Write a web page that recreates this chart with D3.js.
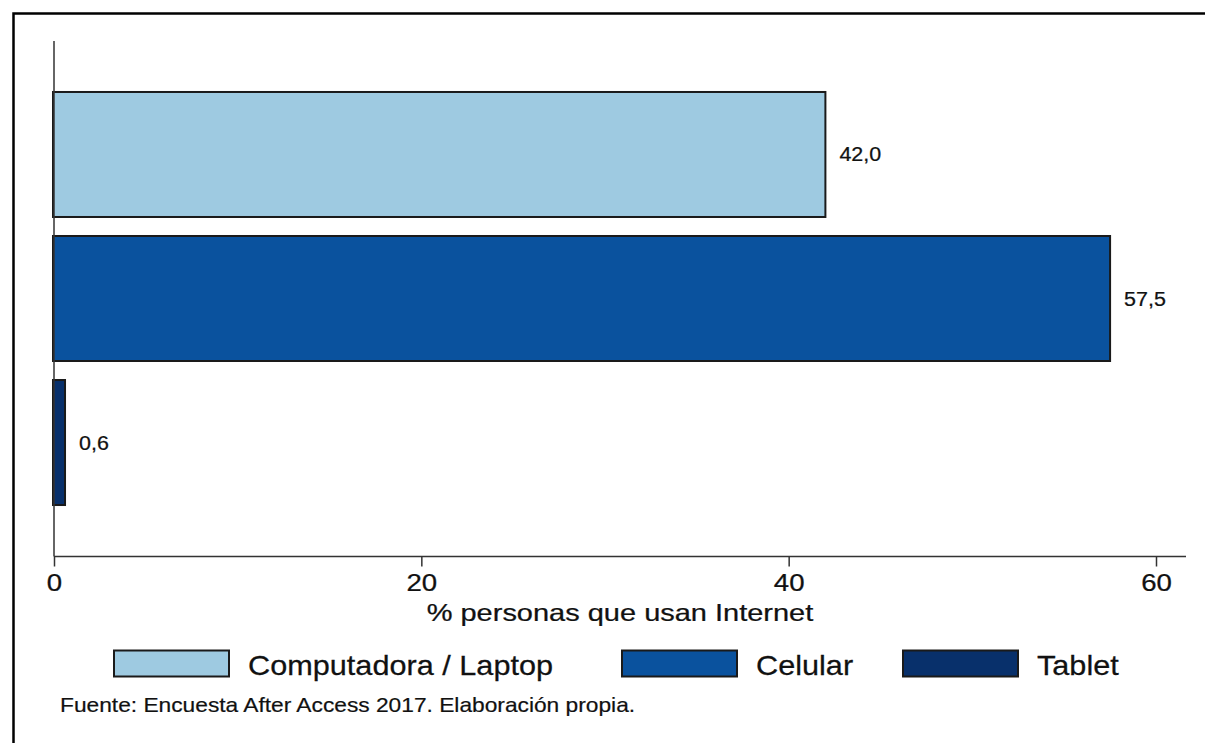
<!DOCTYPE html>
<html>
<head>
<meta charset="utf-8">
<script src="https://cdn.jsdelivr.net/npm/d3@7"></script>
<style>
  html, body { margin: 0; padding: 0; background: #fff; }
  svg { display: block; font-family: "Liberation Sans", Arial, sans-serif; }
</style>
</head>
<body>
<svg id="chart" width="1205" height="743"></svg>
<script>
// data
const categories = ["Computadora / Laptop", "Celular", "Tablet"];
const values     = [42.0, 57.5, 0.6];
const colors     = ["#9ecae1", "#0a529e", "#08306b"];
const xTicks     = [0, 20, 40, 60];
const xTitle     = "% personas que usan Internet";
const source     = "Fuente: Encuesta After Access 2017. Elaboración propia.";

const svg = d3.select("#chart");

// outer frame (only top/left visible in the crop)
svg.append("rect")
  .attr("x", 13.5).attr("y", 13.5)
  .attr("width", 1300).attr("height", 900)
  .attr("fill", "none").attr("stroke", "#000").attr("stroke-width", 2.5);

const x = d3.scaleLinear().domain([0, 60]).range([54, 1156]);
const y = d3.scaleBand().domain(categories)
  .range([41, 556]).paddingInner(0.132).paddingOuter(0.354);

const fmt = v => v.toFixed(1).replace(".", ",");

// horizontally stretched text helper
function stretch(sel, sx) {
  sel.each(function() {
    const t = d3.select(this);
    const tx = +t.attr("x") || 0, ty = +t.attr("y") || 0;
    t.attr("transform", `translate(${tx},${ty}) scale(${sx},1) translate(${-tx},${-ty})`);
  });
}

// bars
svg.append("g").selectAll("rect")
  .data(categories)
  .join("rect")
  .attr("x", x(0) - 1)
  .attr("y", d => y(d))
  .attr("width", (d, i) => x(values[i]) - x(0) + 1)
  .attr("height", y.bandwidth())
  .attr("fill", (d, i) => colors[i])
  .attr("stroke", "#1a1a1a").attr("stroke-width", 2);

// value labels
svg.append("g").selectAll("text")
  .data(categories)
  .join("text")
  .attr("x", (d, i) => x(values[i]) + 14)
  .attr("y", d => y(d) + y.bandwidth() / 2)
  .attr("dy", "0.36em")
  .attr("font-size", 19.5)
  .attr("fill", "#111").attr("stroke", "#111").attr("stroke-width", 0.25)
  .text((d, i) => fmt(values[i]))
  .call(stretch, 1.1);

// y axis line
svg.append("line")
  .attr("x1", 54).attr("x2", 54).attr("y1", 41).attr("y2", 556.5)
  .attr("stroke", "#333").attr("stroke-width", 1.5);

// x axis
const xAxis = svg.append("g")
  .attr("transform", "translate(0,556.5)")
  .call(d3.axisBottom(x).tickValues(xTicks).tickSize(10).tickPadding(8).tickSizeOuter(0));
xAxis.select(".domain").attr("d", "M54,0H1186").attr("stroke", "#333").attr("stroke-width", 1.5);
xAxis.selectAll(".tick line").attr("stroke", "#333").attr("stroke-width", 1.5);
xAxis.selectAll(".tick text")
  .attr("font-size", 23).attr("font-family", "Liberation Sans, Arial, sans-serif")
  .attr("fill", "#111").attr("stroke", "#111").attr("stroke-width", 0.25)
  .attr("dy", "0.71em")
  .attr("transform", "scale(1.2,1)");

svg.append("text")
  .attr("x", 620).attr("y", 621)
  .attr("text-anchor", "middle")
  .attr("font-size", 23).attr("fill", "#111").attr("stroke", "#111").attr("stroke-width", 0.25)
  .text(xTitle)
  .call(stretch, 1.26);

// legend
const legendBoxX  = [114, 622, 903];
const legend = svg.append("g").selectAll("g")
  .data(categories)
  .join("g");
legend.append("rect")
  .attr("x", (d, i) => legendBoxX[i]).attr("y", 650.5)
  .attr("width", 115).attr("height", 26)
  .attr("fill", (d, i) => colors[i])
  .attr("stroke", "#1a1a1a").attr("stroke-width", 2);
legend.append("text")
  .attr("x", (d, i) => legendBoxX[i] + 134).attr("y", 675)
  .attr("font-size", 28).attr("fill", "#111").attr("stroke", "#111").attr("stroke-width", 0.25)
  .text(d => d)
  .call(stretch, 1.095);

// source note
svg.append("text")
  .attr("x", 60).attr("y", 712)
  .attr("font-size", 20.5).attr("fill", "#111").attr("stroke", "#111").attr("stroke-width", 0.2)
  .text(source)
  .call(stretch, 1.11);
</script>
</body>
</html>
